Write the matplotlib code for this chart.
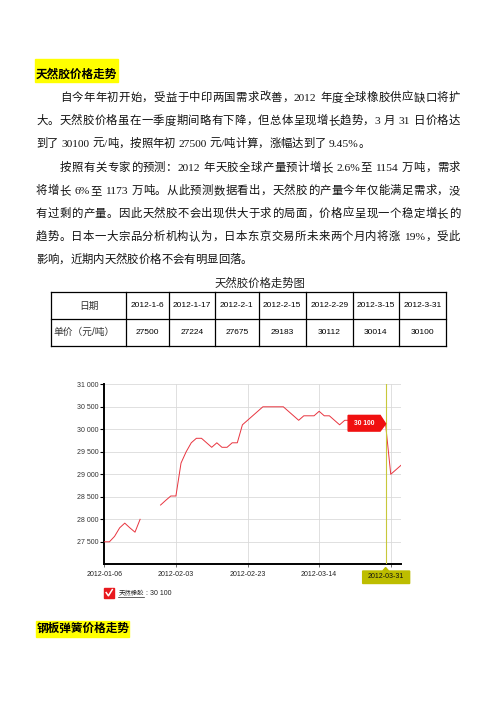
import numpy as np
import matplotlib
matplotlib.use('Agg')
import matplotlib.pyplot as plt
from matplotlib.patches import Rectangle, Polygon
from matplotlib.transforms import Affine2D, ScaledTranslation, blended_transform_factory

W, H = 496, 702

# 图表数据 (按交易日序号)
prices = [27500, 27500, 27620, 27810, 27915, 27810, 27714, 28000,
          np.nan, np.nan, np.nan,
          28317, 28420, 28518, 28518, 29250, 29500, 29700, 29800, 29800,
          29700, 29600, 29700, 29600, 29600, 29700, 29700, 30100, 30200, 30300,
          30400, 30500, 30500, 30500, 30500, 30500, 30400, 30300, 30200, 30300,
          30300, 30300, 30400, 30300, 30300, 30200, 30100, 30200, 30200, 30200,
          30200, 30200, 30200, 30200, 30150, 30100, 29000, 29100, 29200]
tick_pos = [0, 14, 28, 42, 56]
tick_dates = ["2012-01-06", "2012-02-03", "2012-02-23", "2012-03-14", "2012-03-31"]
y_ticks = list(range(27500, 31001, 500))
hover_idx = 55
hover_date = "2012-03-31"
series_name = "天然橡胶"

# 表格数据
table_dates = ["2012-1-6", "2012-1-17", "2012-2-1", "2012-2-15", "2012-2-29", "2012-3-15", "2012-3-31"]
table_prices = [27500, 27224, 27675, 29183, 30112, 30014, 30100]

heading1 = "天然胶价格走势"
heading2 = "钢板弹簧价格走势"
caption = "天然胶价格走势图"
lines = [
    ("自今年年初开始，受益于中印两国需求改善，2012 年度全球橡胶供应缺口将扩", 60, True),
    ("大。天然胶价格虽在一季度期间略有下降，但总体呈现增长趋势，3 月 31 日价格达", 36, True),
    ("到了 30100 元/吨，按照年初 27500 元/吨计算，涨幅达到了 9.45%。", 36, False),
    ("按照有关专家的预测：2012 年天胶全球产量预计增长 2.6%至 1154 万吨，需求", 60, True),
    ("将增长 6%至 1173 万吨。从此预测数据看出，天然胶的产量今年仅能满足需求，没", 36, True),
    ("有过剩的产量。因此天然胶不会出现供大于求的局面，价格应呈现一个稳定增长的", 36, True),
    ("趋势。日本一大宗品分析机构认为，日本东京交易所未来两个月内将涨 19%，受此", 36, True),
    ("影响，近期内天然胶价格不会有明显回落。", 36, False),
]
line_y = [96.7, 119.8, 142.7, 166.5, 189.8, 212.7, 235.8, 259.0]

SERIF = ['Liberation Serif', 'Noto Sans CJK SC']
SANS = ['Liberation Sans', 'Noto Sans CJK SC']

fig = plt.figure(figsize=(W / 100, H / 100), dpi=100)
page = fig.add_axes([0, 0, 1, 1])
page.set_xlim(0, W)
page.set_ylim(H, 0)
page.axis('off')
renderer = fig.canvas.get_renderer()


def tokens_of(s):
    toks, buf = [], ''
    for ch in s:
        if ch == ' ' or ord(ch) > 0x2e80:
            if buf:
                toks.append(buf)
                buf = ''
            toks.append(ch)
        else:
            buf += ch
    if buf:
        toks.append(buf)
    return toks


def draw_line(s, x0, x1, yc, size, justify):
    toks = tokens_of(s)
    arts = []
    widths = []
    for tk in toks:
        if tk == ' ':
            arts.append(None)
            widths.append(0.25 * size * 100 / 72)
        else:
            t = page.text(0, yc + 0.36 * size * 100 / 72, tk, fontsize=size,
                          family=SERIF, va='baseline', ha='left', color='#111')
            arts.append(t)
            widths.append(t.get_window_extent(renderer).width)
    extra = (x1 - x0 - sum(widths)) / (len(toks) - 1) if justify else 0
    x = x0
    for t, w in zip(arts, widths):
        if t is not None:
            t.set_x(x)
        x += w + extra


# 标题
page.add_patch(Rectangle((35, 59.3), 83.3, 23, color='#ffff00', zorder=0))
page.text(36, 75, heading1, fontsize=8.4, family=SANS, weight='bold', va='center')
page.add_patch(Rectangle((36, 620.7), 93, 16, color='#ffff00', zorder=0))
page.text(36.5, 628.7, heading2, fontsize=8.4, family=SANS, weight='bold', va='center')

# 正文
for (s, x0, just), yc in zip(lines, line_y):
    draw_line(s, x0, 460, yc, 8.2, just)

# 表格
page.text(259.7, 283.3, caption, fontsize=8.2, family=SANS, ha='center', va='center', color='#222')
col_x = [51, 126.3, 168.7, 215, 258.7, 305.7, 352.7, 399, 445.7]
row_y = [292.3, 319, 345.7]
for x in col_x:
    page.plot([x, x], [row_y[0], row_y[-1]], color='black', lw=0.9)
for y in row_y:
    page.plot([col_x[0], col_x[-1]], [y, y], color='black', lw=0.9)
cy1 = (row_y[0] + row_y[1]) / 2
cy2 = (row_y[1] + row_y[2]) / 2
page.text((col_x[0] + col_x[1]) / 2, cy1, "日期", fontsize=7, family=SANS, ha='center', va='center', color='#333')
page.text(53.5, cy2, "单价（元/吨）", fontsize=7, family=SANS, ha='left', va='center', color='#333')
for i, (d, p) in enumerate(zip(table_dates, table_prices)):
    cx = (col_x[i + 1] + col_x[i + 2]) / 2
    page.text(cx, cy1, d, fontsize=6, family=SANS, ha='center', va='center', color='black')
    page.text(cx, cy2, str(p), fontsize=6, family=SANS, ha='center', va='center', color='black')

# 走势图
ax = fig.add_axes([104.3 / W, 1 - 564.3 / H, (401.5 - 104.3) / W, 180 / H])
idx = np.arange(len(prices))
ax.plot(idx, prices, color='#e8343f', lw=0.7, zorder=3)
ax.set_xlim(0, 58.1)
ax.set_ylim(27000, 31000)
ax.set_yticks(y_ticks)
ax.set_yticklabels([f"{v:,}".replace(",", " ") for v in y_ticks])
ax.set_xticks(tick_pos)
# 最后一个刻度标签被十字线标签盖住
ax.set_xticklabels([d if d != hover_date else "" for d in tick_dates])
for lab in ax.get_xticklabels() + ax.get_yticklabels():
    lab.set_family('Liberation Sans')
ax.tick_params(axis='y', length=3, width=0.8, color='black', labelsize=5, labelcolor='#333', pad=1)
ax.tick_params(axis='x', length=2.5, width=0.6, color='#555', labelsize=5, labelcolor='#222', pad=2.5)
ax.grid(True, color='#dadada', lw=0.6)
ax.set_axisbelow(True)
for sp in ['top', 'right']:
    ax.spines[sp].set_visible(False)
for sp in ['left', 'bottom']:
    ax.spines[sp].set_linewidth(1.4)
    ax.spines[sp].set_color('black')
ax.patch.set_alpha(0)

# 悬停十字线和提示
hover_val = prices[hover_idx]
ax.axvline(hover_idx, color='#c8c83a', lw=0.8, zorder=4)
tip_tr = Affine2D() + ScaledTranslation(hover_idx, hover_val, ax.transData)
ax.add_patch(Polygon([(-37.5, 9.4), (-5.5, 9.4), (0, 1), (-5.5, -6.3), (-37.5, -6.3)],
                     closed=True, color='#f01010', transform=tip_tr, clip_on=False, zorder=6))
ax.text(-21.5, 1.6, f"{hover_val:,}".replace(",", " "), transform=tip_tr, fontsize=4.8,
        family='Liberation Sans', weight='bold', color='white', ha='center', va='center', zorder=7)

bot_tr = Affine2D() + ScaledTranslation(hover_idx, 0, blended_transform_factory(ax.transData, ax.transAxes))
ax.add_patch(Polygon([(-23, -6.7), (-3, -6.7), (0, -3.2), (3, -6.7), (24, -6.7), (24, -19.2), (-23, -19.2)],
                     closed=True, color='#bdbd00', transform=bot_tr, clip_on=False, zorder=6))
ax.text(0.5, -12.6, hover_date, transform=bot_tr, fontsize=5, family='Liberation Sans',
        color='#111', ha='center', va='center', zorder=7)

# 图例
page.add_patch(Rectangle((104.3, 588.3), 9.4, 9.4, color='#e8191e', zorder=5))
page.plot([106.2, 108.4, 112.3], [592.6, 595.8, 589.6], color='white', lw=1.1, zorder=6)
page.text(118.3, 593.3, series_name, fontsize=4.6, family=SANS, va='center', color='#222')
page.plot([118.3, 144], [597, 597], color='#222', lw=0.5)
page.text(146, 593.3, ": " + f"{hover_val:,}".replace(",", " "), fontsize=5, family='Liberation Sans',
          va='center', color='#222')

fig.savefig('out.png', dpi=100)
